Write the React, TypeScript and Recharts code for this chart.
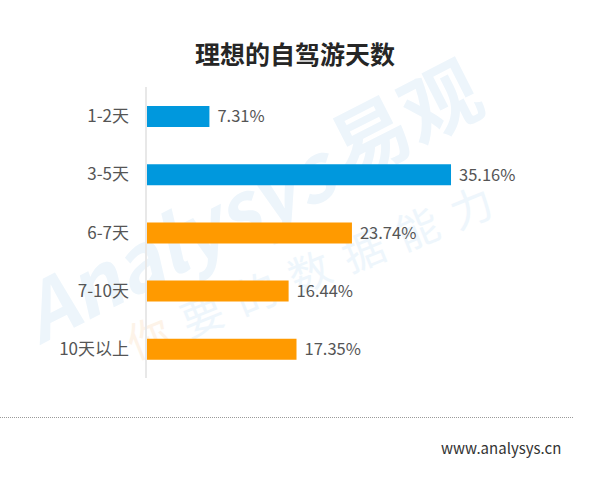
import { Bar, BarChart, Cell, LabelList, XAxis, YAxis } from "recharts";

const categories: string[] = ["1-2天", "3-5天", "6-7天", "7-10天", "10天以上"];
const shares: number[] = [7.31, 35.16, 23.74, 16.44, 17.35];
const barColors: string[] = ["#0098DD", "#0098DD", "#FF9A00", "#FF9A00", "#FF9A00"];

const chartData = categories.map((name, i) => ({ name, value: shares[i] }));

const FONT = "'Noto Sans CJK SC', 'Noto Sans', sans-serif";

function Watermark() {
  return (
    <svg
      width={604}
      height={479}
      style={{ position: "absolute", left: 0, top: 0 }}
    >
      <g transform="translate(40 345) rotate(-27)" fontFamily={FONT}>
        <text x={0} y={0} fontSize={78} fontStyle="italic" fontWeight={700} fill="#edf5fb">
          Analysys
        </text>
        <text x={350} y={-6} fontSize={78} fontWeight={700} fill="#edf5fb">
          易观
        </text>
      </g>
      <g transform="translate(135 360) rotate(-22)" fontFamily={FONT} fontSize={42}>
        <text x={0} y={0} fill="#fdf3e8">你</text>
        <text x={58} y={0} fill="#eef6fc">要</text>
        <text x={116} y={0} fill="#eef6fc">的</text>
        <text x={174} y={0} fill="#eef6fc">数</text>
        <text x={232} y={0} fill="#eef6fc">据</text>
        <text x={290} y={0} fill="#eef6fc">能</text>
        <text x={348} y={0} fill="#eef6fc">力</text>
      </g>
    </svg>
  );
}

export default function App() {
  return (
    <div
      style={{
        position: "absolute",
        left: 0,
        top: 0,
        width: 604,
        height: 479,
        background: "#fff",
        fontFamily: FONT,
      }}
    >
      <Watermark />
      <div
        style={{
          position: "absolute",
          top: 37,
          left: 0,
          width: 590,
          textAlign: "center",
          fontSize: 25,
          fontWeight: 700,
          color: "#262626",
          lineHeight: "32px",
        }}
      >
        理想的自驾游天数
      </div>
      <div style={{ position: "absolute", left: 0, top: 0 }}>
        <BarChart
          width={604}
          height={479}
          data={chartData}
          layout="vertical"
          margin={{ top: 87, right: 111, bottom: 101, left: 0 }}
          barSize={21}
        >
          <XAxis type="number" domain={[0, 40]} hide />
          <YAxis
            type="category"
            dataKey="name"
            width={146}
            axisLine={{ stroke: "#e8e8e8", strokeWidth: 2 }}
            tickLine={false}
            tickSize={6}
            tickMargin={11}
            tick={{ fill: "#555", fontSize: 17, fontFamily: FONT }}
          />
          <Bar dataKey="value" isAnimationActive={false}>
            {chartData.map((d, i) => (
              <Cell key={d.name} fill={barColors[i]} />
            ))}
            <LabelList
              dataKey="value"
              position="right"
              offset={8}
              formatter={(v: any) => `${v}%`}
              style={{ fill: "#555", fontSize: 16.5, fontFamily: FONT }}
            />
          </Bar>
        </BarChart>
      </div>
      <div
        style={{
          position: "absolute",
          left: 0,
          top: 417,
          width: 573,
          borderTop: "1px dotted #9a9a9a",
        }}
      />
      <div
        style={{
          position: "absolute",
          left: 441,
          top: 438,
          fontSize: 15,
          color: "#333",
          lineHeight: "20px",
        }}
      >
        www.analysys.cn
      </div>
    </div>
  );
}
